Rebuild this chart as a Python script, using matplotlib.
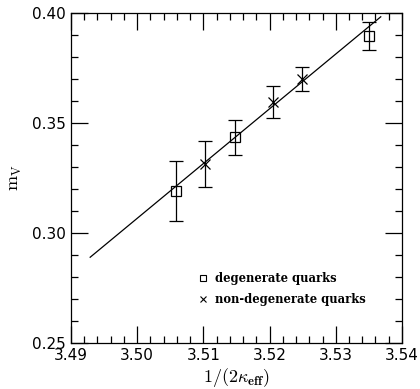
import numpy as np
import matplotlib.pyplot as plt

plt.rcParams['mathtext.fontset'] = 'cm'

# degenerate quarks
deg_x = [3.5059, 3.5148, 3.5350]
deg_y = [0.3191, 0.3435, 0.3895]
deg_err = [0.0138, 0.0080, 0.0064]

# non-degenerate quarks
nd_x = [3.5102, 3.5205, 3.5249]
nd_y = [0.3314, 0.3595, 0.3700]
nd_err = [0.0105, 0.0072, 0.0055]

# linear fit line end points
fit_x = [3.4929, 3.5368]
fit_y = [0.2890, 0.3982]

fig = plt.figure(figsize=(4.2, 3.89), dpi=100)
ax = fig.add_axes([0.169, 0.118, 0.788, 0.849])

ax.plot(fit_x, fit_y, color='black', lw=0.9)
ax.errorbar(deg_x, deg_y, yerr=deg_err, fmt='s', mfc='none', mec='black',
            ms=7, mew=0.9, ecolor='black', elinewidth=0.9, capsize=5, capthick=0.9)
ax.errorbar(nd_x, nd_y, yerr=nd_err, fmt='x', color='black',
            ms=7, mew=0.9, elinewidth=0.9, capsize=5, capthick=0.9)

ax.set_xlim(3.49, 3.54)
ax.set_ylim(0.25, 0.40)
ax.set_xticks(np.arange(3.49, 3.5401, 0.01))
ax.set_xticks(np.arange(3.49, 3.5401, 0.002), minor=True)
ax.set_yticks(np.arange(0.25, 0.4001, 0.05))
ax.set_yticks(np.arange(0.25, 0.4001, 0.01), minor=True)
ax.set_xticklabels(['3.49', '3.50', '3.51', '3.52', '3.53', '3.54'])
ax.set_yticklabels(['0.25', '0.30', '0.35', '0.40'])
ax.tick_params(which='both', direction='in', top=True, right=True,
               labelsize=11, width=0.9)
ax.tick_params(which='major', length=12)
ax.tick_params(which='minor', length=5)
for s in ax.spines.values():
    s.set_linewidth(0.9)

ax.set_xlabel(r'$1/(2\kappa_{\mathbf{eff}})$', fontsize=13, labelpad=2)
ax.set_ylabel(r'$\mathrm{m}_\mathrm{V}$', fontsize=13, labelpad=6)

# legend drawn as text + markers
ax.plot([3.5099], [0.2795], 's', mfc='none', mec='black', ms=5, mew=0.8)
ax.text(3.5117, 0.2795, 'degenerate quarks', fontsize=8.3, fontweight='bold',
        family='DejaVu Serif', va='center')
ax.plot([3.5099], [0.2700], 'x', color='black', ms=5, mew=0.8)
ax.text(3.5117, 0.2700, 'non-degenerate quarks', fontsize=8.3, fontweight='bold',
        family='DejaVu Serif', va='center')

plt.savefig('out.png', dpi=100)
